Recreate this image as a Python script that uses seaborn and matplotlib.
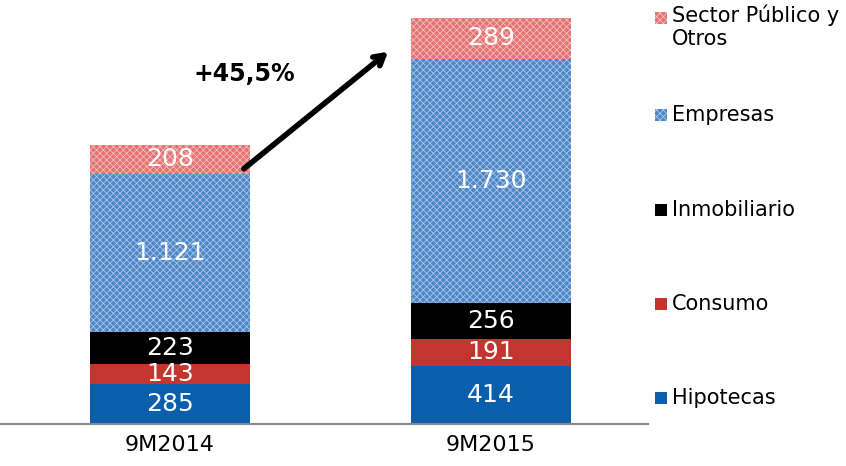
import numpy as np
import pandas as pd
import matplotlib
matplotlib.use("Agg")
import matplotlib.pyplot as plt
from matplotlib.patches import Rectangle
import seaborn as sns

# data
periods = ["9M2014", "9M2015"]
hipotecas = [285, 414]
consumo = [143, 191]
inmobiliario = [223, 256]
empresas = [1121, 1730]
sector_publico = [208, 289]

series_names = ["Hipotecas", "Consumo", "Inmobiliario", "Empresas", "Sector Público y\nOtros"]
series_vals = [hipotecas, consumo, inmobiliario, empresas, sector_publico]
colors = ["#0a5fac", "#c4352f", "#000000", "#4f86c6", "#e57373"]
hatch_colors = [None, None, None, "#a9c6ea", "#f6bcbc"]
hatches = [None, None, None, "xxxxx", "xxxxx"]
growth_label = "+45,5%"

sns.set_style("white")
plt.rcParams["font.family"] = ["DejaVu Sans"]
plt.rcParams["text.color"] = "black"
plt.rcParams["xtick.color"] = "black"
plt.rcParams["hatch.linewidth"] = 0.6

fig = plt.figure(figsize=(8.46, 4.66), dpi=100)
ax = fig.add_axes([0.0, 0.09, 0.766, 0.91])

df = pd.DataFrame(dict(zip(series_names, series_vals)), index=periods)
cum = df.cumsum(axis=1)

# draw from top layer down so lower layers cover
for i in range(len(series_names) - 1, -1, -1):
    name = series_names[i]
    d = pd.DataFrame({"period": periods, "value": cum[name].values})
    sns.barplot(data=d, x="period", y="value", color=colors[i], width=0.5,
                saturation=1, ax=ax, linewidth=0)
    for bar in ax.patches[-len(periods):]:
        if hatches[i]:
            bar.set_hatch(hatches[i])
            bar.set_edgecolor(hatch_colors[i])
        else:
            bar.set_edgecolor(colors[i])
        bar.set_linewidth(0)

# value labels
for j, p in enumerate(periods):
    bottom = 0
    for i, name in enumerate(series_names):
        v = df.loc[p, name]
        lab = f"{v:,}".replace(",", ".")
        ax.text(j, bottom + v / 2, lab, ha="center", va="center",
                color="white", fontsize=18)
        bottom += v

ax.set_xlim(-0.53, 1.49)
ax.set_ylim(0, 3007)
ax.set_xlabel("")
ax.set_ylabel("")
ax.set_yticks([])
ax.tick_params(axis="x", labelsize=16, length=0, pad=8, labelcolor="black")
for s in ["top", "right", "left"]:
    ax.spines[s].set_visible(False)
ax.spines["bottom"].set_color("#888888")
ax.spines["bottom"].set_linewidth(1.5)

# growth arrow
ax.annotate("", xy=(0.68, 2640), xytext=(0.23, 1810),
            arrowprops=dict(arrowstyle="->,head_length=0.7,head_width=0.4",
                            color="black", lw=4, shrinkA=0, shrinkB=0))
ax.text(0.23, 2480, growth_label, ha="center", va="center",
        fontsize=17, fontweight="bold", color="black")

# legend (manual, reversed order), pixel centers from bottom
leg_y = [68, 162, 256, 351, 448]
for i, name in enumerate(series_names):
    yc = leg_y[i] / 466
    fig.add_artist(Rectangle((655 / 846, yc - 6 / 466), 12 / 846, 12 / 466,
                             transform=fig.transFigure, facecolor=colors[i],
                             hatch=hatches[i],
                             edgecolor=hatch_colors[i] if hatches[i] else colors[i],
                             linewidth=0))
    if "\n" in name:
        fig.text(672 / 846, yc + 13 / 466, name, ha="left", va="top",
                 fontsize=15, linespacing=1.15, color="black")
    else:
        fig.text(672 / 846, yc, name, ha="left", va="center", fontsize=15,
                 color="black")

fig.savefig("out.png", dpi=100)
